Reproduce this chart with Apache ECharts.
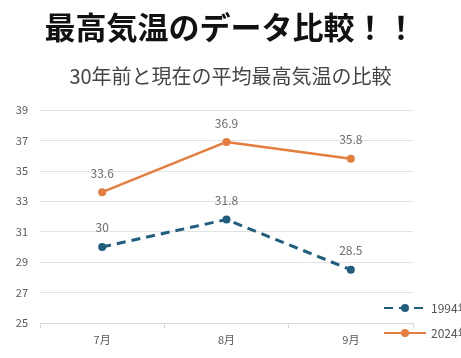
<!DOCTYPE html>
<html><head><meta charset="utf-8">
<script src="https://cdn.jsdelivr.net/npm/echarts@6/dist/echarts.min.js"></script>
<style>html,body{margin:0;padding:0;background:#fff}#c{width:461px;height:358px}</style>
</head><body><div id="c"></div>
<script>
const categories = ['7月', '8月', '9月'];
const series1994 = [30, 31.8, 28.5];
const series2024 = [33.6, 36.9, 35.8];
const seriesNames = ['1994年', '2024年'];
const titleText = '最高気温のデータ比較！！';
const subtitleText = '30年前と現在の平均最高気温の比較';

const chart = echarts.init(document.getElementById('c'));
const font = '"Noto Sans CJK JP", "Noto Sans", sans-serif';
chart.setOption({
  backgroundColor: '#fff',
  animation: false,
  title: [
    {text: titleText, left: 'center', top: 7,
     textStyle: {fontFamily: font, fontWeight: 'bold', fontSize: 31, color: '#111'}},
    {text: subtitleText, left: 'center', top: 61,
     textStyle: {fontFamily: font, fontWeight: 'normal', fontSize: 20, color: '#454545'}}
  ],
  legend: {
    orient: 'vertical', left: 378, top: 297, itemWidth: 42, itemHeight: 10, itemGap: 13,
    textStyle: {fontFamily: font, fontSize: 12, color: '#555', padding: [0,0,0,0]},
    data: seriesNames
  },
  grid: {left: 40, right: 48, top: 110, bottom: 35},
  xAxis: {
    type: 'category', data: categories, boundaryGap: true,
    axisLine: {lineStyle: {color: '#d9d9d9'}},
    axisTick: {show: true, lineStyle: {color: '#d9d9d9'}},
    axisLabel: {fontFamily: font, fontSize: 11, color: '#595959', margin: 11}
  },
  yAxis: {
    type: 'value', min: 25, max: 39, interval: 2,
    axisLine: {show: false}, axisTick: {show: false},
    axisLabel: {fontFamily: font, fontSize: 11, color: '#595959', margin: 12},
    splitLine: {lineStyle: {color: '#e3e3e3'}}
  },
  series: [
    {name: seriesNames[0], type: 'line', data: series1994,
     symbol: 'circle', symbolSize: 8,
     lineStyle: {color: '#1f5e7e', width: 3, type: [9, 6]},
     itemStyle: {color: '#1f5e7e'},
     label: {show: true, position: 'top', distance: 9, fontFamily: font, fontSize: 12, color: '#6b6b6b'}},
    {name: seriesNames[1], type: 'line', data: series2024,
     symbol: 'circle', symbolSize: 8,
     lineStyle: {color: '#e57d3e', width: 2.5},
     itemStyle: {color: '#e57d3e'},
     label: {show: true, position: 'top', distance: 9, fontFamily: font, fontSize: 12, color: '#6b6b6b'}}
  ]
});
</script></body></html>
